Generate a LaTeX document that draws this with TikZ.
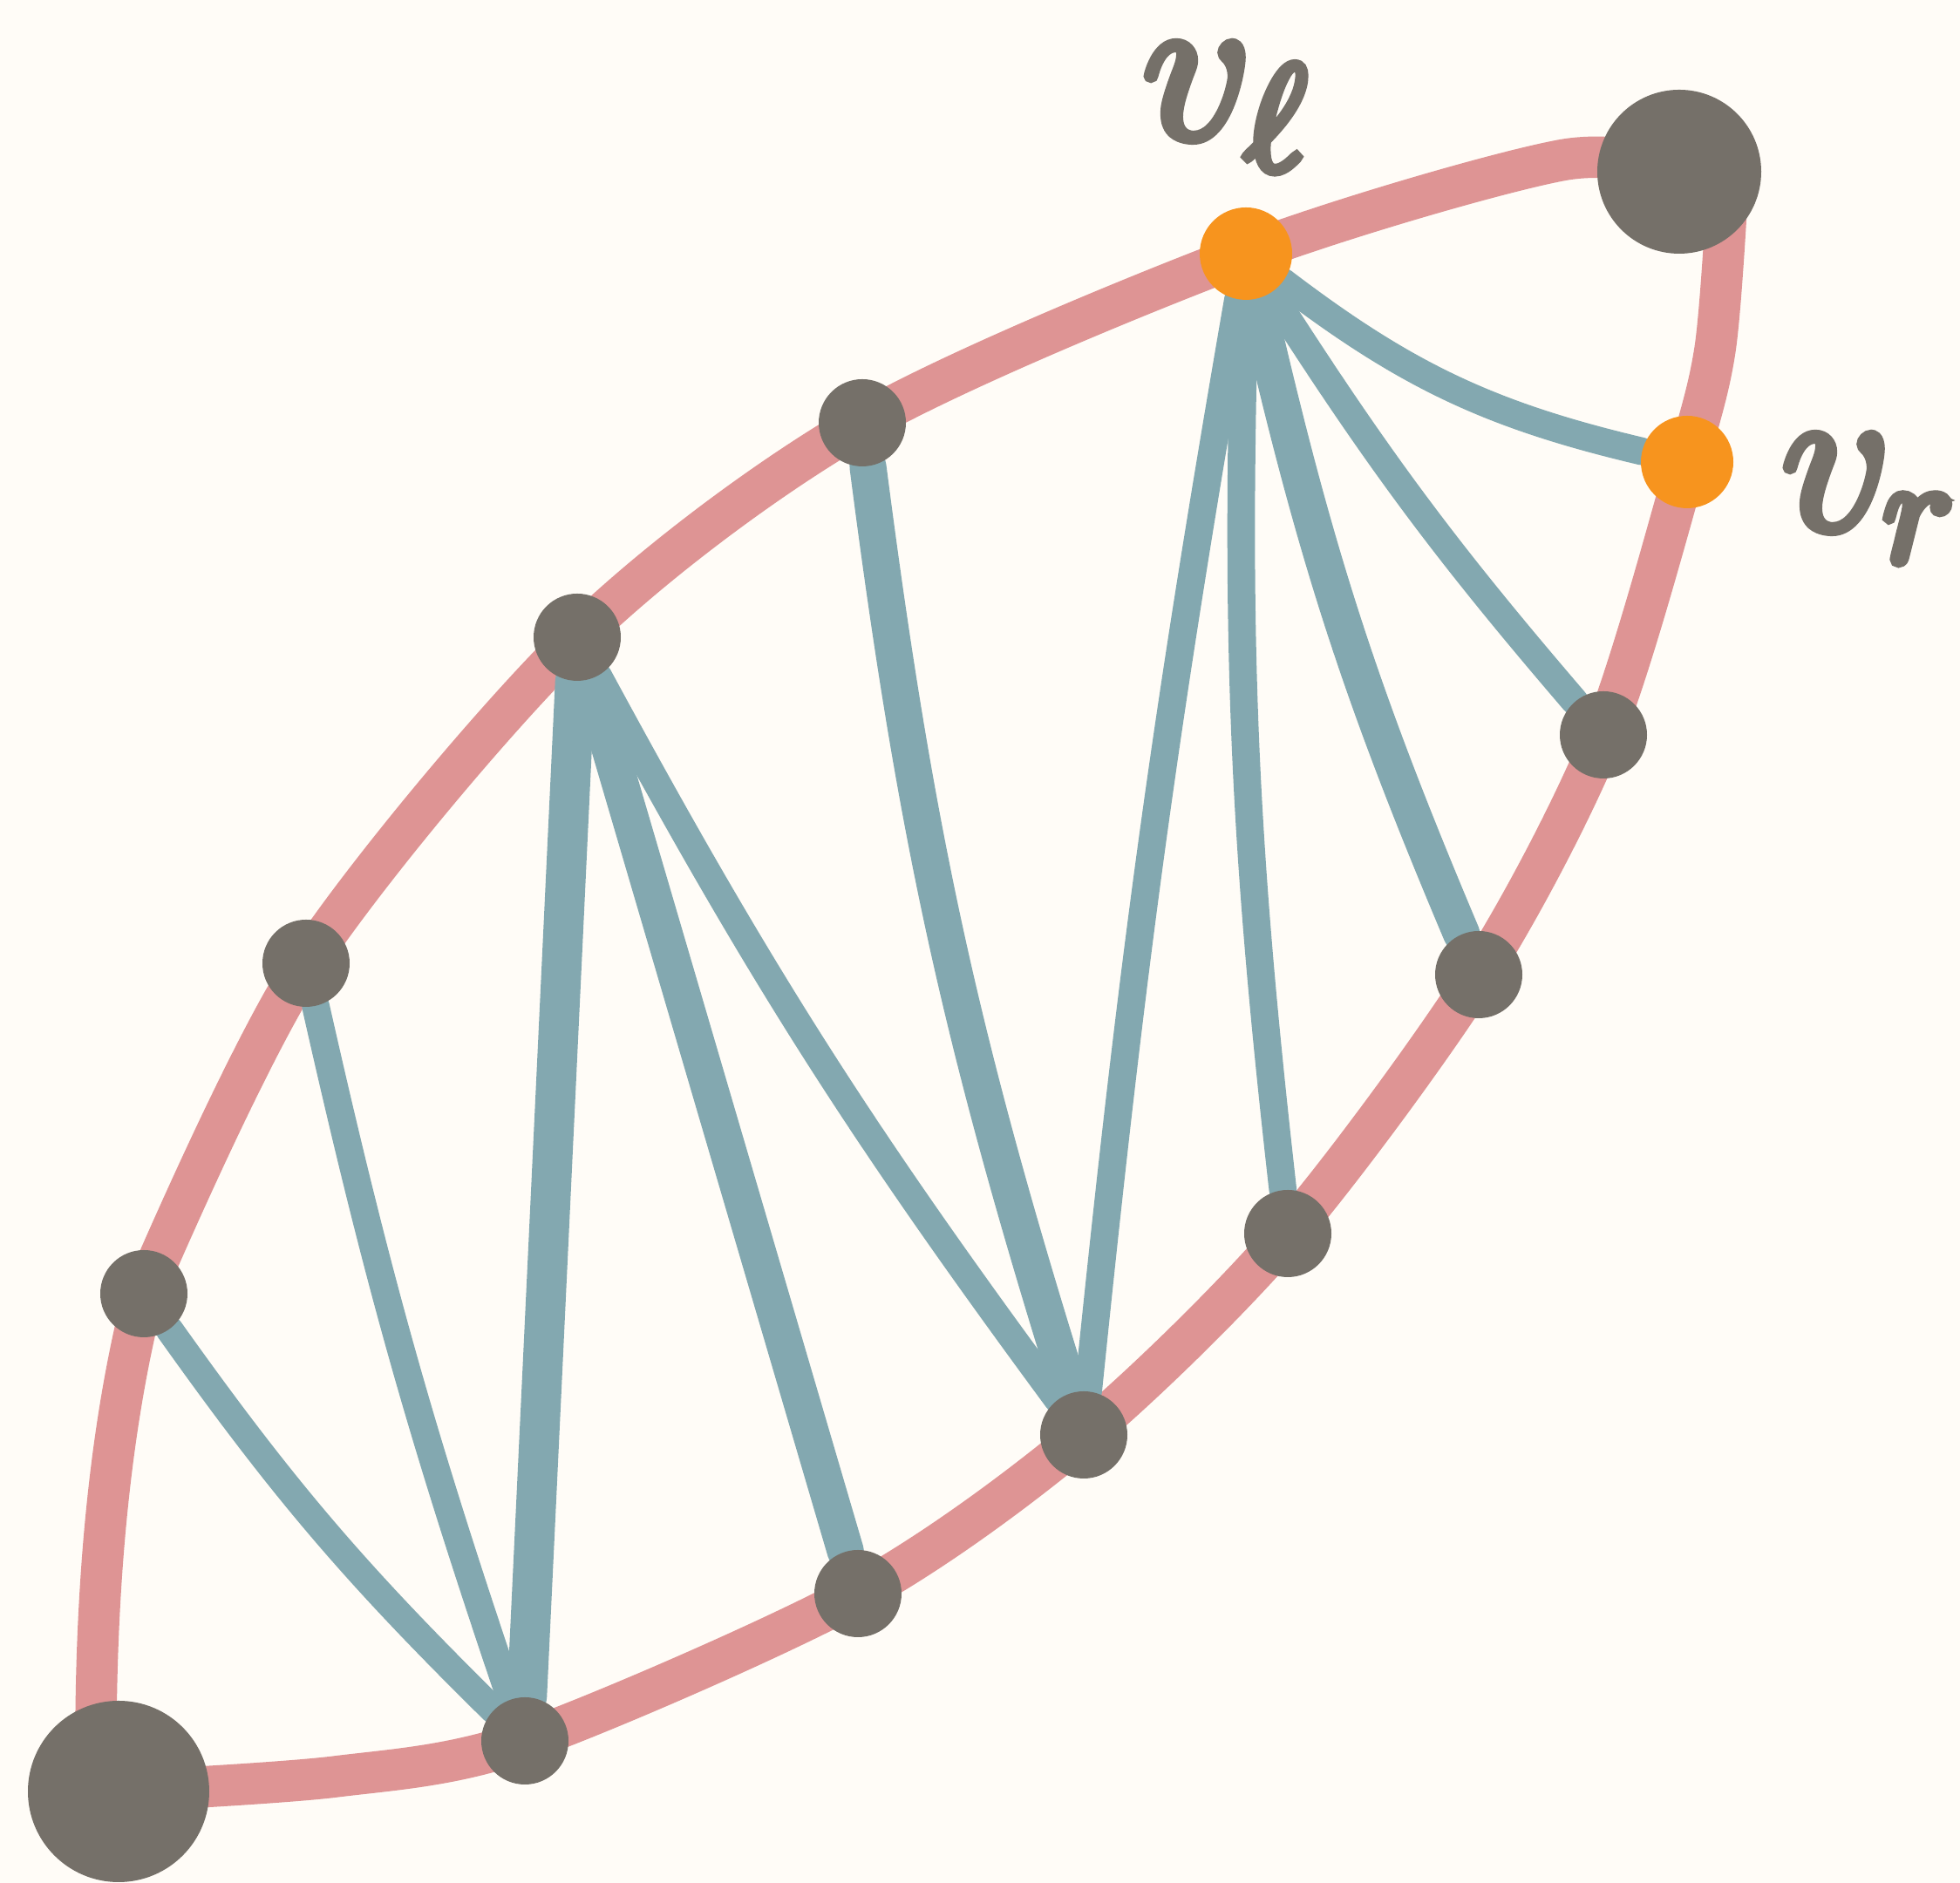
\RequirePackage{fix-cm}
\documentclass[tikz,border=0pt]{standalone}
\usetikzlibrary{backgrounds}
\definecolor{paper}{HTML}{FFFCF7}
\definecolor{rim}{HTML}{DE9494}
\definecolor{chord}{HTML}{83A8B0}
\definecolor{stone}{HTML}{757069}
\definecolor{amber}{HTML}{F7941E}
% heavier glyphs: fill and stroke the outlines
\newcommand{\heavy}[1]{\special{pdf:literal direct 2 Tr 3.2 w}#1\special{pdf:literal direct 0 Tr}}
\tikzset{
  vtx/.style        = {circle, fill=stone, inner sep=0pt, minimum size=1.0cm},
  hub/.style        = {circle, fill=amber, inner sep=0pt, minimum size=1.06cm},
  pole/.style       = {circle, fill=stone, inner sep=0pt, minimum size=2.0cm},
  rimline/.style    = {line width=13.5pt, rim, line cap=round, line join=round},
  chordline/.style  = {line width=9pt, chord, line cap=round},
  thickchord/.style = {chordline, line width=12pt},
  tag/.style        = {text=stone, inner sep=0pt, anchor=base west,
                       font=\fontsize{70}{74}\selectfont},
}

\begin{document}
\begin{tikzpicture}
  \useasboundingbox (0,0) rectangle (22.48,21.60);

  % ---- the two poles and the two marked vertices -------------------------
  \node[pole,minimum size=2.08cm] (bl) at (1.36,1.05) {};
  \node[pole,minimum size=1.88cm] (tr) at (19.26,19.63) {};
  \node[hub] (vl) at (14.29,18.69) {};
  \node[hub] (vr) at (19.35,16.30) {};

  % ---- upper and lower chains --------------------------------------------
  \foreach \n/\x/\y in {t1/9.89/16.75, t2/6.62/14.29, t3/3.51/10.55, t4/1.65/6.76,
                        b1/6.02/1.63, b2/9.84/3.32, b3/12.43/5.14, b4/14.77/7.45,
                        b5/16.96/10.42, b6/18.39/13.17}
    \node[vtx] (\n) at (\x,\y) {};

  % ---- labels ------------------------------------------------------------
  \node[tag] (lvl) at (13.10,20.02) {\heavy{$v_{\ell}$}};
  \node[tag] (lvr) at (20.43,15.53) {\heavy{$v_{r}$}};

  \begin{scope}[on background layer]
    \fill[paper] (0,0) rectangle (22.48,21.60);

    % ---- boundary of the region ------------------------------------------
    \draw[rimline] (1.1,1.6) .. controls (1.1,3.4) and (1.25,5.2) .. (t4.center);
    \draw[rimline] plot[smooth] coordinates {(t4.center) (t3.center)
        (t2.center) (t1.center) (vl.center) (17.9,19.76) (tr.center)};
    \draw[rimline] plot[smooth] coordinates {(bl.center) (3.85,1.22)
        (b1.center) (b2.center) (b3.center) (b4.center) (b5.center)
        (b6.center) (vr.center) (19.67,17.59) (19.8,19.2)};

    % ---- chords ----------------------------------------------------------
    \draw[chordline]  (t4) to[bend right=5] (b1);
    \draw[chordline]  (t3) to[bend right=3] (b1);
    \draw[thickchord,line width=13pt] (t2) -- (b1);
    \draw[thickchord] (t2) -- (b2);
    \draw[chordline]  (t2) to[bend right=4] (b3);
    \draw[thickchord] (t1) to[bend right=5] (b3);
    \draw[chordline]  (vl) to[bend right=2] (b3);
    \draw[chordline]  (vl) to[bend right=4] (b4);
    \draw[thickchord] (vl) to[bend right=5] (b5);
    \draw[chordline]  (vl) to[bend right=4] (b6);
    \draw[chordline]  (vl) to[bend right=12] (vr);
  \end{scope}
\end{tikzpicture}
\end{document}
